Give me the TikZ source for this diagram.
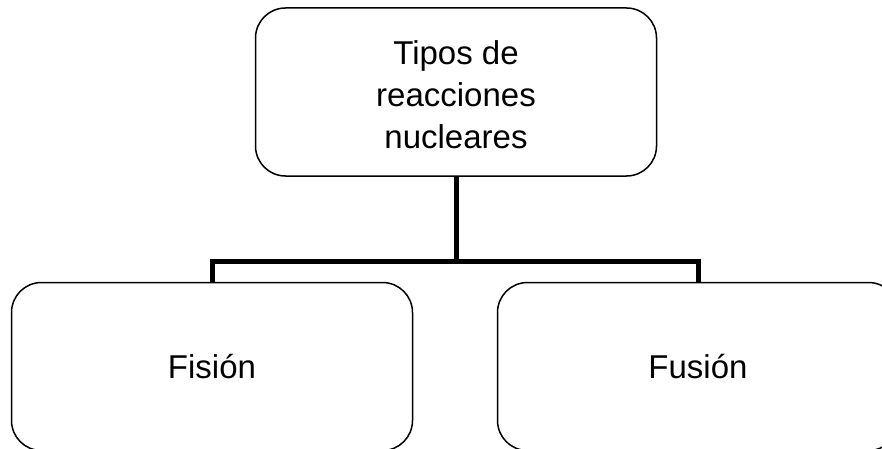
\documentclass[tikz,border=0pt]{standalone}
\usepackage{fontspec}
\setmainfont{Liberation Sans}
\usepackage{tikz}
\usetikzlibrary{positioning}
\tikzset{reacbox/.style={draw, line width=1.5pt, rounded corners=30pt,
         minimum width=401pt, minimum height=168pt, align=center,
         font=\fontsize{33}{42}\selectfont},
         link/.style={line width=5pt}}

\begin{document}
\begin{tikzpicture}[x=1pt,y=-1pt]
\useasboundingbox (0,0) rectangle (882,449);
\clip (0,0) rectangle (882,449);

\node [reacbox, text height=114pt] (top) at (456,92) {Tipos de\\reacciones\\nucleares};
\node [reacbox] (fision) at (212,366.5) {Fisión};
\node [reacbox] (fusion) at (698,366.5) {Fusión};

\coordinate (bar) at (455,261);
\draw [link] (top.south) -- (top.south |- bar);
\draw [link] (fision.north) |- (bar) -| (fusion.north);

\end{tikzpicture}
\end{document}
